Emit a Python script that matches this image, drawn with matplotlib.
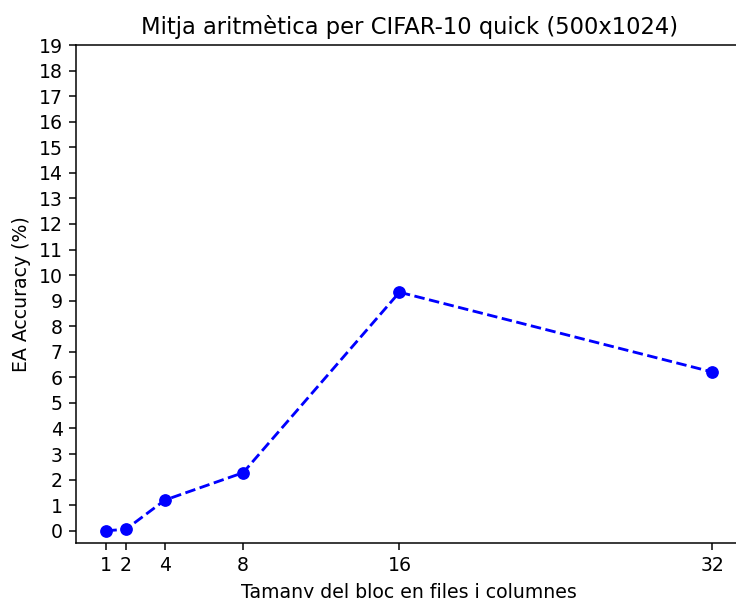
import matplotlib
matplotlib.use("Agg")
import matplotlib.pyplot as plt

block_sizes = [1, 2, 4, 8, 16, 32]
accuracy = [0.0, 0.055, 1.2, 2.27, 9.33, 6.21]
yticks = list(range(0, 20))

s = 1.36
fig = plt.figure(figsize=(7.36, 5.98), dpi=100)
ax = fig.add_axes([0.1033, 0.092, 0.9055, 0.8327])
ax.plot(block_sizes, accuracy, 'bo--', markersize=6 * s, linewidth=1.5 * s)
ax.set_xticks(block_sizes)
ax.set_yticks(yticks)
ax.set_ylim(-0.48, 19)
ax.set_xlim(-0.55, 33.55)
ax.tick_params(labelsize=10 * s, length=3.5 * s, width=0.8 * s, pad=3.5 * s)
for sp in ax.spines.values():
    sp.set_linewidth(0.8 * s)
ax.set_title("Mitja aritmètica per CIFAR-10 quick (500x1024)", fontsize=12 * s, pad=6 * s)
ax.set_xlabel("Tamany del bloc en files i columnes", fontsize=10 * s, labelpad=4 * s)
ax.set_ylabel("EA Accuracy (%)", fontsize=10 * s, labelpad=4 * s)
fig.savefig("out.png", dpi=100)
